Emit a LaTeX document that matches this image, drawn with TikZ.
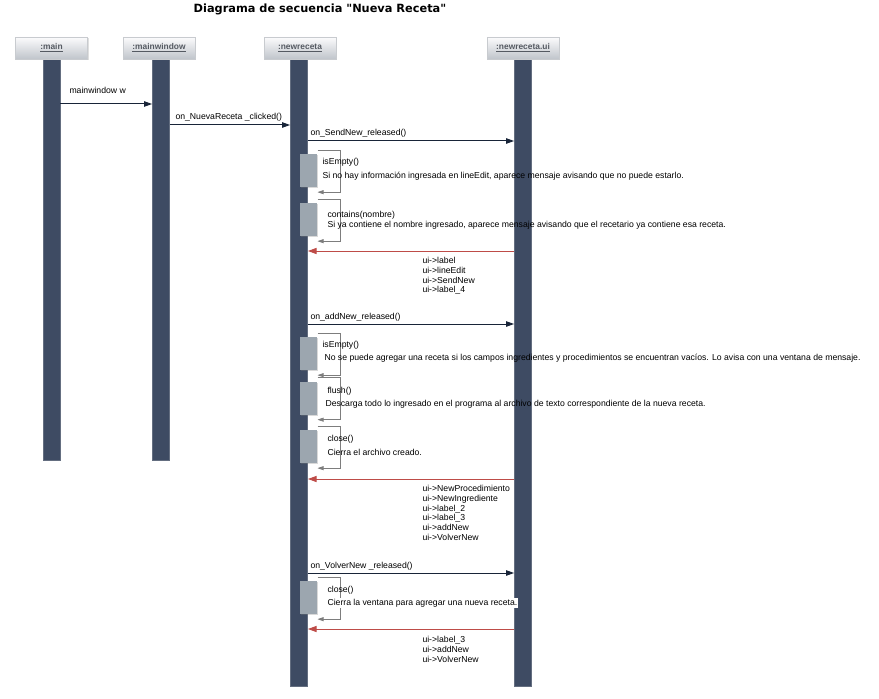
\documentclass[tikz,border=0pt]{standalone}
\usepackage{fontspec}
\setmainfont{Liberation Sans}
\newfontfamily\titlefont{DejaVu Sans}
\usetikzlibrary{arrows.meta,shadows}

\definecolor{barblue}{RGB}{62,75,99}
\definecolor{barrim}{RGB}{100,110,128}
\definecolor{actgray}{RGB}{156,166,175}
\definecolor{msgblue}{RGB}{24,36,56}
\definecolor{retred}{RGB}{190,76,72}
\definecolor{selfgray}{RGB}{125,125,125}
\definecolor{headtop}{RGB}{252,252,253}
\definecolor{headbot}{RGB}{192,197,203}
\definecolor{headrim}{RGB}{200,203,207}
\definecolor{headtext}{RGB}{85,90,98}

\tikzset{every picture/.style={line width=0.75pt}}
\tikzset{
  lifebar/.style={fill=barblue, draw=barrim, line width=0.5pt, inner sep=0pt, minimum width=12.75pt},
  headbox/.style={draw=headrim, line width=0.5pt, top color=headtop, bottom color=headbot, inner sep=0pt,
    minimum width=54pt, minimum height=16.5pt, text=headtext, font=\fontsize{6.3}{7}\selectfont\bfseries,
    drop shadow={shadow xshift=1pt, shadow yshift=-1pt, opacity=0.25}},
  actbox/.style={fill=actgray, draw=none, inner sep=0pt, minimum width=12.75pt, minimum height=24.75pt,
    drop shadow={shadow xshift=0.8pt, shadow yshift=-0.8pt, opacity=0.3}},
  msg/.style={draw=msgblue, -{Triangle[length=6pt,width=4pt]}},
  ret/.style={draw=retred, -{Triangle[length=6.5pt,width=4.5pt]}},
  selfmsg/.style={draw=selfgray, line width=0.5pt, -{Triangle[length=4.5pt,width=3pt]}},
  lbl/.style={anchor=west, inner sep=0.75pt, font=\fontsize{6.5}{7.5}\selectfont},
  retlbl/.style={anchor=north west, inner sep=0.75pt, align=left, font=\fontsize{6.5}{7.3}\selectfont},
}

\begin{document}
\begin{tikzpicture}[x=0.75pt,y=0.75pt,yscale=-1,xscale=1]
\useasboundingbox (0,0) rectangle (879,699);

% Title
\node (title) [anchor=base, font=\titlefont\bfseries\fontsize{8.5}{10}\selectfont] at (320,12.5) {Diagrama de secuencia "Nueva Receta"};

%Shape: Lifelines
\node (L-main) [lifebar, minimum height=300.75pt] at (51.5,259.5) {};
\node (L-mainwindow) [lifebar, minimum height=300.75pt] at (161,259.5) {};
\node (L-newreceta) [lifebar, minimum height=470.25pt] at (299,372.5) {};
\node (L-ui) [lifebar, minimum height=470.25pt] at (523,372.5) {};

%Shape: Heads
\node (H-main) [headbox] at (51.5,48) {\underline{:main}};
\node (H-mainwindow) [headbox] at (159,48) {\underline{:mainwindow}};
\node (H-newreceta) [headbox] at (300,48) {\underline{:newreceta}};
\node (H-ui) [headbox] at (523,48) {\underline{:newreceta.ui}};

%Straight Lines: calls
\draw [msg] (L-main.east |- 0,104) -- (L-mainwindow.west |- 0,104);
\draw [msg] (L-mainwindow.east |- 0,125) -- (L-newreceta.west |- 0,125);
\draw [msg] (L-newreceta.east |- 0,141) -- (L-ui.west |- 0,141);
\draw [msg] (L-newreceta.east |- 0,324) -- (L-ui.west |- 0,324);
\draw [msg] (L-newreceta.east |- 0,573) -- (L-ui.west |- 0,573);

% Text Node
\node (m-mainwindow) [lbl] at (68,90) {mainwindow w};
\node (m-nueva) [lbl] at (174,117) {on\_NuevaReceta \_clicked()};
\node (m-sendnew) [lbl] at (309,133) {on\_SendNew\_released()};
\node (m-addnew) [lbl] at (309,317) {on\_addNew\_released()};
\node (m-volvernew) [lbl] at (309,566) {on\_VolverNew \_released()};

%Shape: Activations
\node (act1) [actbox] at (308.5,170.5) {};
\node (act2) [actbox] at (308.5,219.5) {};
\node (act3) [actbox] at (308.5,353.5) {};
\node (act4) [actbox] at (308.5,398) {};
\node (act5) [actbox] at (308.5,446.5) {};
\node (act6) [actbox] at (308.5,597.5) {};

%Straight Lines: self calls
\draw [selfmsg] ([yshift=-2.5pt]act1.north east) -- ++(23,0) |- ([yshift=3.5pt]act1.south east);
\draw [selfmsg] ([yshift=-2.5pt]act2.north east) -- ++(23,0) |- ([yshift=3.5pt]act2.south east);
\draw [selfmsg] ([yshift=-2.5pt]act3.north east) -- ++(23,0) |- ([yshift=3.5pt]act3.south east);
\draw [selfmsg] ([yshift=-2.5pt]act4.north east) -- ++(23,0) |- ([yshift=3.5pt]act4.south east);
\draw [selfmsg] ([yshift=-2.5pt]act5.north east) -- ++(23,0) |- ([yshift=3.5pt]act5.south east);
\draw [selfmsg] ([yshift=-2.5pt]act6.north east) -- ++(23,0) |- ([yshift=3.5pt]act6.south east);

% Text Node
\node (s-isempty1) [lbl] at (321,162) {isEmpty()};
\node (n-isempty1) [lbl] at (321,176) {Si no hay información ingresada en lineEdit, aparece mensaje avisando que no puede estarlo.};
\node (s-contains) [lbl] at (326,215) {contains(nombre)};
\node (n-contains) [lbl] at (326,225) {Si ya contiene el nombre ingresado, aparece mensaje avisando que el recetario ya contiene esa receta.};
\node (s-isempty2) [lbl] at (321,345) {isEmpty()};
\node (n-isempty2) [lbl] at (323,358) {No se puede agregar una receta si los campos ingredientes y procedimientos se encuentran vacíos. Lo avisa con una ventana de mensaje.};
\node (s-flush) [lbl] at (326,391) {flush()};
\node (n-flush) [lbl] at (324,404) {Descarga todo lo ingresado en el programa al archivo de texto correspondiente de la nueva receta.};
\node (s-close1) [lbl] at (326,439) {close()};
\node (n-close1) [lbl] at (326,452) {Cierra el archivo creado.};
\node (s-close2) [lbl] at (326,590) {close()};
\node (n-close2) [lbl, fill=white] at (326,603) {Cierra la ventana para agregar una nueva receta.};

%Straight Lines: returns
\draw [ret] (L-ui.west |- 0,251) -- (L-newreceta.east |- 0,251);
\draw [ret] (L-ui.west |- 0,479) -- (L-newreceta.east |- 0,479);
\draw [ret] (L-ui.west |- 0,629) -- (L-newreceta.east |- 0,629);

% Text Node
\node (r-sendnew) [retlbl] at (421,256) {ui->label\\ui->lineEdit\\ui->SendNew\\ui->label\_4};
\node (r-addnew) [retlbl] at (421,484) {ui->NewProcedimiento\\ui->NewIngrediente\\ui->label\_2\\ui->label\_3\\ui->addNew\\ui->VolverNew};
\node (r-volvernew) [retlbl] at (421,635) {ui->label\_3\\ui->addNew\\ui->VolverNew};

\end{tikzpicture}
\end{document}
